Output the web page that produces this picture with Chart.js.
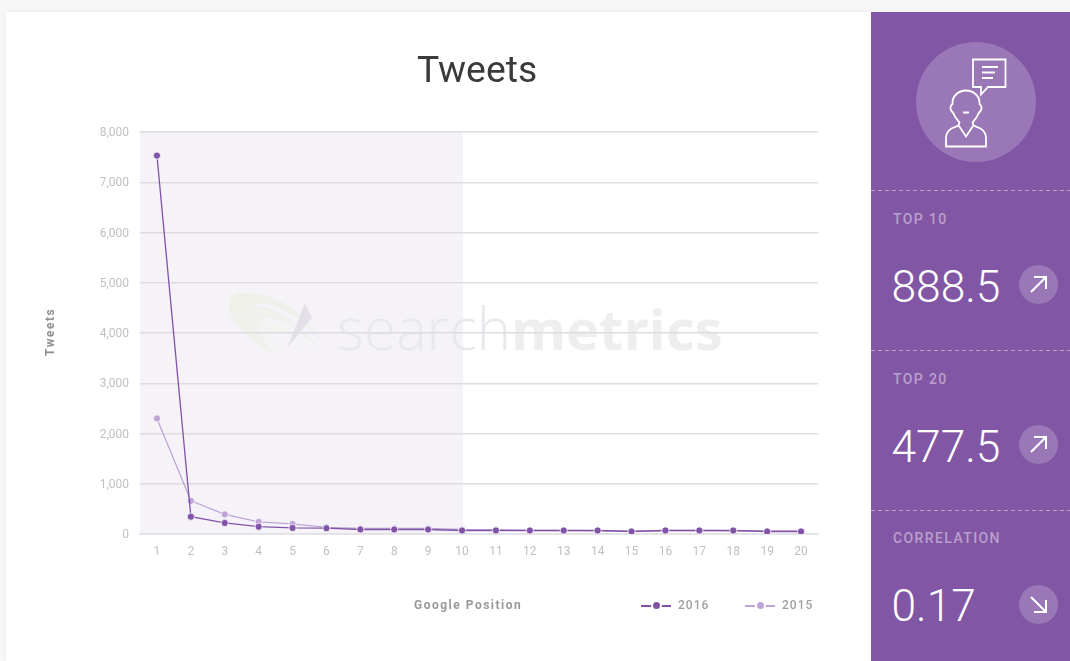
<!DOCTYPE html>
<html>
<head>
<meta charset="utf-8">
<title>Tweets</title>
<script src="https://cdn.jsdelivr.net/npm/chart.js@4"></script>
<style>
  html, body { margin: 0; padding: 0; width: 1070px; height: 661px; overflow: hidden; background: #f7f7f7; font-family: Roboto, sans-serif; }
  .card { position: absolute; left: 6px; top: 12px; width: 865px; height: 649px; background: #fff; box-shadow: 0 0 6px rgba(0,0,0,0.06); }
  #chart { position: absolute; left: 0; top: 0; }
  h1 { position: absolute; left: 371px; width: 200px; top: 32px; margin: 0; text-align: center; font-size: 37.300px; font-weight: 400; line-height: 50px; color: #3a3a3a; }
  .axis-title { position: absolute; font-size: 12px; font-weight: 700; letter-spacing: 1.500px; color: #8f8f8f; white-space: nowrap; line-height: 14px; }
  #xTitle { left: 408px; top: 586px; color: #999; }
  #yTitle { left: 44px; top: 320px; transform: translate(-50%, -50%) rotate(-90deg); transform-origin: center; }
  #legend .item { position: absolute; top: 586px; height: 14px; font-size: 12px; font-weight: 500; letter-spacing: 1px; line-height: 14px; color: #a0a0a0; }
  #legend .line { position: absolute; left: 0; top: 7px; width: 30px; height: 1.5px; }
  #legend .dot { position: absolute; left: 12px; top: 4px; width: 7px; height: 7px; border-radius: 50%; box-shadow: 0 0 0 2px #fff; }
  #legend .text { position: absolute; left: 37px; }
  .panel { position: absolute; left: 871px; top: 12px; width: 199px; height: 649px; background: #8156a5; color: #fff; }
  .sep { position: absolute; left: 0; width: 199px; height: 1px; background: repeating-linear-gradient(90deg, rgba(255,255,255,0.45) 0 4px, transparent 4px 7px); }
  .big-circle { position: absolute; left: 45px; top: 30px; width: 120px; height: 120px; border-radius: 50%; background: rgba(255,255,255,0.2); }
  .stat-label { position: absolute; left: 22px; font-size: 14px; font-weight: 500; letter-spacing: 1.400px; line-height: 16px; color: rgba(255,255,255,0.45); }
  .stat-value { position: absolute; left: 20.500px; font-size: 44.300px; font-weight: 300; line-height: 50px; }
  .stat-arrow { position: absolute; left: 148px; width: 39px; height: 39px; border-radius: 50%; background: rgba(255,255,255,0.2); }
  .stat-arrow svg { position: absolute; left: 0; top: 0; }
  .icon { position: absolute; left: 0; top: 0; }
</style>
</head>
<body>
<div class="card">
  <canvas id="chart" width="865" height="649"></canvas>
  <h1>Tweets</h1>
  <div class="axis-title" id="xTitle">Google Position</div>
  <div class="axis-title" id="yTitle">Tweets</div>
  <div id="legend"></div>
</div>
<div class="panel" id="panel">
  <div class="big-circle"></div>
  <svg class="icon" width="199" height="190" fill="none" stroke="#fff" stroke-width="1.8">
    <path d="M102 47.500H134.500V75H117L110 82.500V75H102Z"/>
    <path d="M111 55H127M111 60.500H124M111 66H122"/>
    <path d="M95 78.500c-8 0-13.500 6-13.500 12l0 1.500c-2.500 1.500-2.500 5-1 7 1 1 2 2 2.500 3.500 1 3 4 6 5.500 8l-1 3-7 3c-3.500 2-5.500 5-5.500 10v8h40v-8c0-5-2-8-5.500-10l-7-3-1-3c1.500-2 4.500-5 5.500-8 .5-1.500 1.500-2.500 2.500-3.500 1.500-2 1.500-5.500-1-7v-1.500c0-6-5.500-12-13.500-12z"/>
    <path d="M88 114L95 124.500L102 114M92 100.500H98"/>
  </svg>
</div>
<script>
// Chart data
const positions = ['1','2','3','4','5','6','7','8','9','10','11','12','13','14','15','16','17','18','19','20'];
const tweets2016 = [7530, 345, 220, 145, 120, 115, 90, 90, 90, 70, 70, 70, 70, 70, 50, 70, 70, 70, 50, 50];
const tweets2015 = [2300, 660, 390, 240, 200, 130, 110, 110, 110, 90, 85, 70, 70, 65, 55, 70, 70, 65, 60, 60];
const yTicks = [0, 1000, 2000, 3000, 4000, 5000, 6000, 7000, 8000];
const shadedUntil = '10';

// Side panel stats
const stats = [
  { label: 'TOP 10', value: '888.5', up: true },
  { label: 'TOP 20', value: '477.5', up: true },
  { label: 'CORRELATION', value: '0.17', up: false }
];

const color2016 = '#8053a8';
const color2015 = '#bfa5d6';

// Shaded band and watermark behind the grid
const backdropPlugin = {
  id: 'backdrop',
  beforeDraw(chart) {
    const { ctx, chartArea, scales } = chart;
    const bandEnd = scales.x.getPixelForValue(positions.indexOf(shadedUntil)) + 1;
    ctx.save();
    ctx.fillStyle = '#f5f3f8';
    ctx.fillRect(chartArea.left, chartArea.top, bandEnd - chartArea.left, chartArea.bottom - chartArea.top);

    // swoosh
    ctx.translate(-6, -12);
    const swoosh = [
      ['#f0f0ea', 'M244 293C228 291 224 306 234 320C246 336 262 348 272 354C262 342 250 326 248 316C246 302 262 300 284 310C304 320 320 338 326 354C318 330 296 306 270 297C260 294 252 293 244 293Z'],
      ['#f0f0ec', 'M256 306C242 304 240 316 250 328C258 338 266 346 272 352C266 342 258 330 260 322C262 314 278 318 294 328C306 336 314 344 320 352C310 334 292 316 272 309C266 307 260 306 256 306Z'],
      ['#f3f3f1', 'M264 320C256 320 258 330 264 338C270 346 276 350 282 354C276 344 270 336 274 332C280 328 292 336 306 350C296 334 278 320 264 320Z'],
      ['#e3e1e7', 'M305 303L312 318L287 348Z']
    ];
    swoosh.forEach(([fill, d]) => {
      ctx.fillStyle = fill;
      ctx.fill(new Path2D(d));
    });

    ctx.textBaseline = 'alphabetic';
    ctx.fillStyle = '#e9e8ec';
    ctx.font = '300 58px "Open Sans"';
    ctx.fillText('search', 337, 350);
    ctx.fillStyle = '#eeeeee';
    ctx.font = '700 56px "Open Sans"';
    ctx.fillText('metrics', 511, 350);
    ctx.restore();
  }
};

const chart = new Chart(document.getElementById('chart'), {
  type: 'line',
  data: {
    labels: positions,
    datasets: [
      {
        label: '2016',
        data: tweets2016,
        borderColor: color2016,
        backgroundColor: color2016,
        borderWidth: 1.3,
        pointRadius: 3.6,
        pointBorderColor: '#ffffff',
        pointBorderWidth: 0.8,
        tension: 0,
        order: 1
      },
      {
        label: '2015',
        data: tweets2015,
        borderColor: color2015,
        backgroundColor: color2015,
        borderWidth: 1.3,
        pointRadius: 3.6,
        pointBorderColor: '#ffffff',
        pointBorderWidth: 0.8,
        tension: 0,
        order: 2
      }
    ]
  },
  options: {
    responsive: false,
    animation: false,
    devicePixelRatio: 1,
    layout: { padding: { left: 0, right: 53, top: 120, bottom: 0 } },
    plugins: {
      legend: { display: false },
      tooltip: { enabled: false }
    },
    scales: {
      x: {
        offset: true,
        grid: { display: false },
        border: { color: '#e2e0e6', width: 1.5 },
        ticks: { color: '#c0c0c0', font: { family: 'Roboto', size: 12 }, padding: 3, maxRotation: 0, autoSkip: false },
        afterFit(scale) { scale.height = 127; }
      },
      y: {
        min: 0,
        max: 8000,
        afterBuildTicks(scale) { scale.ticks = yTicks.map(v => ({ value: v })); },
        grid: { color: '#dedbe2', lineWidth: 1.4, drawTicks: false },
        border: { display: false },
        ticks: {
          color: '#c0c0c0',
          font: { family: 'Roboto', size: 12 },
          padding: 11,
          labelOffset: 1,
          callback: v => v.toLocaleString('en-US')
        },
        afterFit(scale) { scale.width = 134; }
      }
    }
  },
  plugins: [backdropPlugin]
});

// Legend built from the datasets
const legendLeft = [635, 739];
chart.data.datasets.forEach((ds, i) => {
  const item = document.createElement('div');
  item.className = 'item';
  item.style.left = legendLeft[i] + 'px';
  item.innerHTML = '<div class="line" style="background:' + ds.borderColor + '"></div>' +
    '<div class="dot" style="background:' + ds.borderColor + '"></div>' +
    '<div class="text">' + ds.label + '</div>';
  document.getElementById('legend').appendChild(item);
});

// Side panel rows
const panel = document.getElementById('panel');
const rowTops = [178, 338, 498];
stats.forEach((s, i) => {
  const top = rowTops[i];
  const textTop = i === 2 ? top - 1 : top;
  const arrow = s.up ? 'M12 27L27 12M15 12H27V24' : 'M12 12L27 27M15 27H27V15';
  panel.insertAdjacentHTML('beforeend',
    '<div class="sep" style="top:' + top + 'px"></div>' +
    '<div class="stat-label" style="top:' + (textTop + 21) + 'px">' + s.label + '</div>' +
    '<div class="stat-value" style="top:' + (textTop + 72) + 'px">' + s.value + '</div>' +
    '<div class="stat-arrow" style="top:' + (top + 75) + 'px"><svg width="39" height="39" fill="none" stroke="#fff" stroke-width="2"><path d="' + arrow + '"/></svg></div>');
});
</script>
</body>
</html>
